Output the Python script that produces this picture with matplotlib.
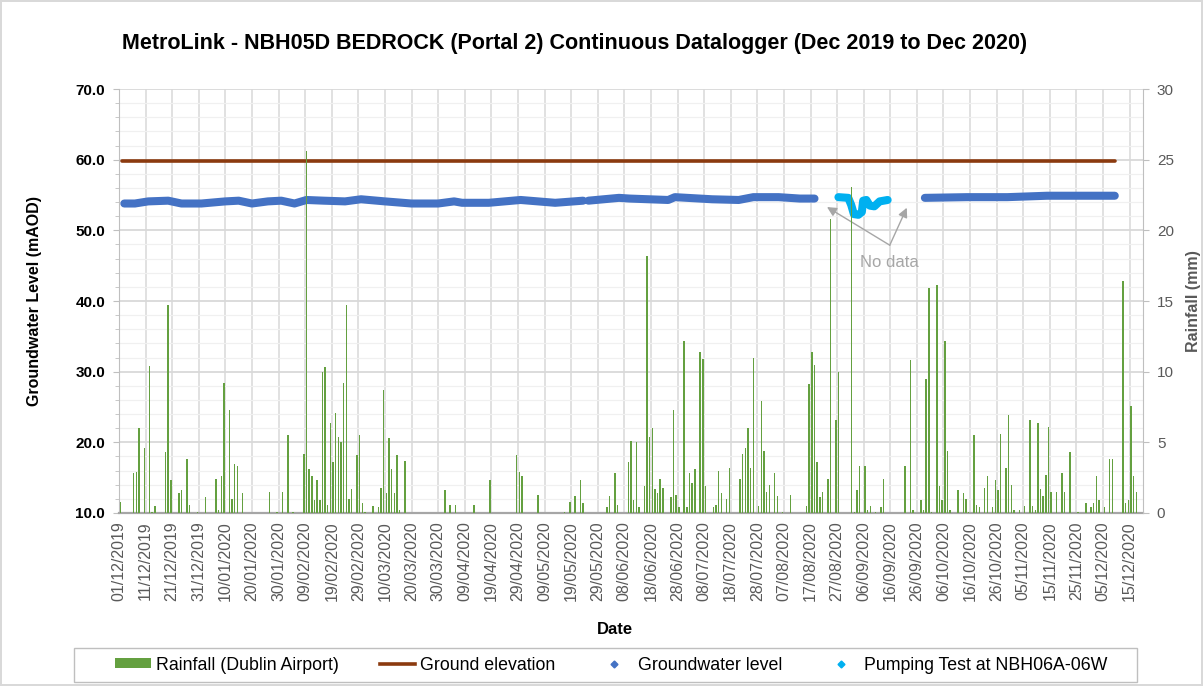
import numpy as np
import pandas as pd
import matplotlib
matplotlib.use('Agg')
import matplotlib.pyplot as plt
import matplotlib.dates as mdates
from matplotlib.lines import Line2D
from matplotlib.patches import Patch, Rectangle

plt.rcParams['font.family'] = ['Liberation Sans', 'DejaVu Sans']

# day 0 = 01/12/2019
start = pd.Timestamp('2019-12-01')

# daily rainfall, Dublin Airport (days since start, mm)
rain_day = [0, 5, 6, 7, 9, 11, 12, 13, 17, 18, 19, 22, 23, 25, 26, 29, 32, 36, 37, 38,
            39, 41, 42, 43, 44, 46, 56, 59, 61, 63,
            65, 69, 70, 71, 72, 73, 74, 75, 76, 77, 78, 79, 80, 81, 82, 83, 84, 85, 86, 87,
            89, 90, 91, 92, 95, 97, 98, 99, 100, 101, 102, 103, 104, 105, 107, 122, 124, 126,
            133, 139, 149, 150, 151, 157, 167, 169, 171, 173, 174, 183, 184, 186, 187, 191,
            192, 193, 194, 195, 197, 198, 199, 200, 201, 202, 203, 204, 207, 208, 209, 210,
            212, 213, 214, 215, 216, 218, 219, 220, 223, 224, 225, 226, 228, 229, 233, 234,
            235, 236, 237, 238, 240, 241, 242, 243, 244, 246, 247, 249, 252,
            258, 259, 260, 261, 262, 263, 264, 266, 267, 269, 270, 275, 276, 277, 278, 280,
            281, 282, 284, 286, 287, 295, 297, 298, 301, 302, 303, 304, 305, 307, 308, 309,
            310, 311, 312, 315, 317, 318,
            319, 321, 322, 323, 325, 326, 328, 329, 330, 331, 333, 334, 335, 336, 338, 340,
            342, 343, 344, 345, 346, 347, 348, 349, 350, 352, 354, 355, 357, 360, 363, 365,
            366, 367, 368, 370, 372, 373, 377, 378, 379, 380, 381, 382]
rain_mm = [0.8, 2.8, 2.9, 6.0, 4.6, 10.4, 0.1, 0.5, 4.3, 14.7, 2.3, 1.4, 1.6, 3.8, 0.6, 0.1, 1.1, 2.4, 0.2, 2.6,
           9.2, 7.3, 1.0, 3.5, 3.3, 1.4, 1.5, 0.1, 1.5, 5.5,
           0.1, 4.2, 25.6, 3.1, 2.6, 0.9, 2.3, 0.9, 10.0, 10.3, 0.6, 6.4, 3.6, 7.1, 5.4, 5.0, 9.2, 14.7, 1.0, 1.7,
           4.1, 5.5, 0.7, 0.1, 0.5, 0.4, 1.8, 8.7, 1.4, 5.3, 3.1, 1.4, 4.1, 0.2, 3.7, 1.6, 0.6, 0.6,
           0.6, 2.3, 4.1, 2.9, 2.6, 1.3, 0.1, 0.8, 1.2, 2.3, 0.7, 0.4, 1.2, 2.8, 0.6, 3.6,
           5.1, 0.9, 5.0, 0.4, 1.9, 18.2, 5.4, 6.0, 1.7, 1.4, 2.4, 1.8, 1.1, 7.3, 1.3, 0.4,
           12.2, 0.4, 2.8, 2.1, 3.1, 11.4, 10.9, 1.9, 0.4, 0.6, 3.0, 1.4, 1.0, 3.2, 2.4, 4.2,
           4.6, 6.0, 3.2, 11.0, 0.5, 7.9, 4.4, 1.5, 2.0, 2.8, 1.2, 0.1, 1.3,
           0.5, 9.1, 11.4, 10.5, 3.6, 1.1, 1.5, 2.4, 20.8, 6.6, 10.0, 23.1, 0.1, 1.6, 3.3, 3.3,
           0.2, 0.5, 0.1, 0.4, 2.4, 3.3, 10.8, 0.2, 0.9, 0.2, 9.5, 15.9, 0.1, 16.1, 1.9, 0.9,
           12.2, 4.4, 0.2, 1.6, 1.4, 1.0,
           0.1, 5.5, 0.6, 0.4, 1.8, 2.6, 0.4, 2.3, 1.6, 5.6, 3.2, 6.9, 2.0, 0.2, 0.2, 0.5,
           6.6, 0.5, 0.2, 6.4, 1.7, 1.2, 2.7, 6.1, 1.5, 1.5, 2.8, 1.5, 4.3, 0.1, 0.7, 0.4,
           0.7, 2.6, 0.9, 0.4, 3.8, 3.8, 16.4, 0.7, 0.9, 7.6, 2.6, 1.5]

# groundwater level (mAOD), NaN = no data
gw_day = [2, 6, 11, 18.5, 23.5, 31, 40, 45, 50, 56, 61, 66, 70.5, 77, 85, 91, 100, 110, 120,
          126, 129, 139, 151, 164, 174.5, np.nan,
          176.5, 188, 192, 206.5, 209, 223, 233, 238.5, 248, 256, 261.5, np.nan,
          303, 319, 334, 349, 362, 374.4]
gw_level = [53.8, 53.8, 54.1, 54.2, 53.8, 53.8, 54.1, 54.2, 53.8, 54.1, 54.2, 53.8, 54.3, 54.2, 54.1, 54.4, 54.1, 53.8, 53.8,
            54.1, 53.9, 53.9, 54.3, 53.9, 54.2, np.nan,
            54.2, 54.6, 54.5, 54.3, 54.7, 54.4, 54.3, 54.7, 54.7, 54.5, 54.5, np.nan,
            54.6, 54.7, 54.7, 54.9, 54.9, 54.9]

# pumping test at NBH06A-06W
pump_day = [270.5, 274.2, 275.3, 276.3, 278, 279.3, 279.8, 281, 282.3, 284, 286, 289]
pump_level = [54.7, 54.6, 53.6, 52.3, 52.2, 52.6, 54.2, 54.3, 53.5, 53.4, 54.1, 54.3]

ground_day = [1, 374.4]
ground_level = [59.8, 59.8]

tick_days = list(range(0, 381, 10))


def to_num(days):
    return mdates.date2num(start.to_pydatetime()) + np.asarray(days, dtype=float)


fig = plt.figure(figsize=(12.03, 6.86), dpi=100)
fig.patch.set_edgecolor('#d9d9d9')
fig.patch.set_linewidth(1.5)
ax = fig.add_axes([0.0989, 0.2522, 0.8512, 0.618])
ax2 = ax.twinx()

# grid
ax.set_ylim(10, 70)
ax.set_yticks(np.arange(10, 71, 10))
ax.set_yticks(np.arange(10, 71, 2), minor=True)
ax.grid(which='minor', axis='y', color='#f0f0f0', lw=0.9)
ax.grid(which='major', axis='y', color='#d9d9d9', lw=1.3)
ax.grid(which='major', axis='x', color='#d9d9d9', lw=1.1)
ax.set_axisbelow(True)

ax.set_xlim(to_num(0), to_num(385))
ax.set_xticks(to_num(tick_days))
ax.xaxis.set_major_formatter(mdates.DateFormatter('%d/%m/%Y'))

# lines
ax.plot(to_num(ground_day), ground_level, color='#8B3A0F', lw=2.6, solid_capstyle='round')
ax.plot(to_num(gw_day), gw_level, color='#4472C4', lw=5.8, solid_capstyle='round',
        solid_joinstyle='round')
ax.plot(to_num(pump_day), pump_level, color='#00B0F0', lw=5.8, solid_capstyle='round',
        solid_joinstyle='round')

# no data note
for tgt in [(266.2, 53.3), (296.2, 53.2)]:
    ax.annotate('', xy=(to_num(tgt[0]), tgt[1]), xytext=(to_num(289.8), 47.9),
                arrowprops=dict(arrowstyle='-|>', color='#a6a6a6', lw=1.0,
                                mutation_scale=14, shrinkA=0, shrinkB=0))
ax.text(to_num(289.8), 45.5, 'No data', color='#a6a6a6', fontsize=12,
        ha='center', va='center')

# rainfall bars on secondary axis
ax2.bar(to_num(rain_day) + 0.5, rain_mm, width=0.55, color='#64a040', lw=0)
ax2.set_ylim(0, 30)
ax2.set_yticks(np.arange(0, 31, 5))

# tick styling
ax.yaxis.set_major_formatter(matplotlib.ticker.FormatStrFormatter('%.1f'))
ax.tick_params(axis='y', which='major', length=4, color='#bfbfbf', pad=6, labelsize=11)
ax.tick_params(axis='y', which='minor', length=3, color='#bfbfbf')
for lbl in ax.get_yticklabels():
    lbl.set_fontweight('bold')
ax.tick_params(axis='x', length=0, pad=6, labelsize=11.5, labelcolor='#595959', rotation=90)
ax2.tick_params(axis='y', length=4, color='#bfbfbf', pad=6, labelsize=11, labelcolor='#595959')

for s in ['top', 'right']:
    ax.spines[s].set_visible(False)
for s in ['top', 'left', 'bottom']:
    ax2.spines[s].set_visible(False)
ax.spines['left'].set_color('#bfbfbf')
ax.spines['bottom'].set_color('#a6a6a6')
ax.spines['bottom'].set_linewidth(1.6)
ax2.spines['right'].set_color('#bfbfbf')

ax.set_ylabel('Groundwater Level (mAOD)', fontsize=11.5, fontweight='bold')
ax.yaxis.set_label_coords(-0.075, 0.5)
ax2.set_ylabel('Rainfall (mm)', fontsize=11.5, fontweight='bold', color='#595959')
ax2.yaxis.set_label_coords(1.042, 0.5)
ax.set_xlabel('Date', fontsize=12, fontweight='bold')
ax.xaxis.set_label_coords(0.484, -0.257)

fig.text(575 / 1203, 1 - 44 / 686,
         'MetroLink - NBH05D BEDROCK (Portal 2) Continuous Datalogger (Dec 2019 to Dec 2020)',
         ha='center', va='center', fontsize=15.5, fontweight='bold')

# legend
handles = [Patch(facecolor='#64a040', edgecolor='none'),
           Line2D([], [], color='#8B3A0F', lw=2.6),
           Line2D([], [], color='#4472C4', marker='D', markersize=3.5, lw=0),
           Line2D([], [], color='#00B0F0', marker='D', markersize=3.5, lw=0)]
labels = ['Rainfall (Dublin Airport)', 'Ground elevation', 'Groundwater level',
          'Pumping Test at NBH06A-06W']
fig.legend(handles, labels, loc='center', bbox_to_anchor=(611 / 1203, 1 - 665 / 686),
           ncol=4, frameon=False, fontsize=12.8, handlelength=2.0, handletextpad=0.3,
           columnspacing=2.3, handleheight=0.5)
fig.patches.append(Rectangle((74 / 1203, 1 - 682 / 686), (1137 - 74) / 1203, 34 / 686,
                             transform=fig.transFigure, fill=False, edgecolor='#bfbfbf', lw=1))

plt.savefig('out.png', dpi=100, edgecolor=fig.get_edgecolor())
plt.close()
